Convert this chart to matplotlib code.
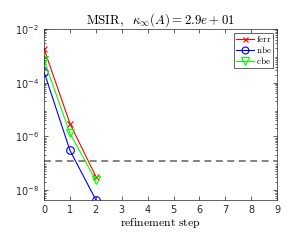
import numpy as np
from matplotlib import pyplot as plt

plt.rcParams['mathtext.fontset'] = 'cm'

# data
steps = [0, 1, 2]
ferr = [1.8e-3, 3.0e-6, 3.2e-8]
nbe = [2.5e-4, 3.0e-7, 4.3e-9]
cbe = [7.0e-4, 1.3e-6, 2.3e-8]
u_line = 1.19e-7

fig = plt.figure(figsize=(2.92, 2.40), dpi=100)
ax = fig.add_axes([0.151, 0.167, 0.798, 0.712])

ax.semilogy(steps, ferr, '-x', color='r', lw=0.8, ms=4, mew=0.8, label=r'$\mathrm{ferr}$')
ax.semilogy(steps, nbe, '-o', color='b', lw=0.8, ms=5.5, mfc='none', mew=0.8, label=r'$\mathrm{nbe}$')
ax.semilogy(steps, cbe, '-v', color='#00ff00', lw=0.8, ms=6, mfc='none', mew=0.8, label=r'$\mathrm{cbe}$')
ax.axhline(u_line, color='#606060', ls='--', lw=1.1, dashes=(4.5, 3))

ax.set_xlim(0, 9)
ax.set_ylim(4.3e-9, 1e-2)
ax.set_xticks(range(10))
ax.set_yticks([1e-8, 1e-6, 1e-4, 1e-2])
ax.tick_params(which='both', direction='in', top=True, right=True, labelsize=7,
               width=0.5, colors='#262626')
ax.tick_params(which='major', length=3)
ax.tick_params(which='minor', length=1.5)
for s in ax.spines.values():
    s.set_linewidth(0.5)
    s.set_color('#262626')

ax.set_title(r'$\mathrm{MSIR},\ \ \kappa_\infty(A) = 2.9e+01$', fontsize=9.3, pad=3)
ax.set_xlabel(r'$\mathrm{refinement\ step}$', fontsize=8.5, labelpad=1)

leg = ax.legend(loc='upper right', fontsize=6.5, markerscale=0.9,
                fancybox=False, edgecolor='#262626', framealpha=1,
                handlelength=2.0, borderpad=0.2, labelspacing=0.0, handletextpad=0.2,
                borderaxespad=0.4)
leg.get_frame().set_linewidth(0.5)

fig.savefig('out.png', dpi=100)
